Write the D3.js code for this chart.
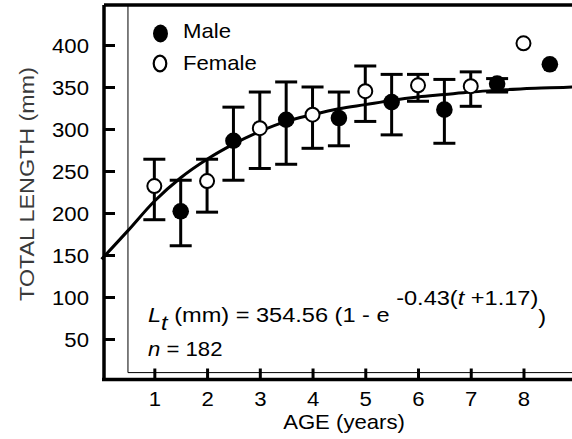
<!DOCTYPE html>
<meta charset="utf-8">
<style>
  body { margin: 0; background: #fff; }
  text { font-family: "Liberation Sans", Arial, sans-serif; fill: #000; }
  .axis path, .axis line { stroke: #000; }
</style>
<svg class="chart"></svg>
<script src="https://cdn.jsdelivr.net/npm/d3@7"></script>
<script>

  // mean total length by age
  var femaleAges = [1, 2, 3, 4, 5, 6, 7, 8];
  var femaleMean = [232, 238, 301, 317, 345, 352, 351, 402];
  var femaleLow  = [192, 201, 253, 277, 309, 333, 327, null];
  var femaleHigh = [264, 264, 344, 350, 375, 365, 368, null];

  var maleAges = [1.5, 2.5, 3.5, 4.5, 5.5, 6.5, 7.5, 8.5];
  var maleMean = [202, 286, 311, 313, 332, 323, 354, 377];
  var maleLow  = [161, 239, 258, 280, 293, 283, 344, null];
  var maleHigh = [239, 326, 356, 344, 365, 359, 360, null];

  // von Bertalanffy fit as drawn
  var fitAges    = [0, 0.5, 1, 1.5, 2, 2.5, 3, 3.5, 4, 4.5, 5, 5.5, 6, 6.5, 7, 7.5, 8, 8.5, 9];
  var fitLengths = [145, 179, 214, 242, 264, 282, 297, 309, 317, 324, 329, 334, 338, 341, 344, 346, 348, 349, 350];

  var xTicks = [1, 2, 3, 4, 5, 6, 7, 8];
  var yTicks = [50, 100, 150, 200, 250, 300, 350, 400];

  var width  = 572,
      height = 439,
      stretch = 1.08,
      fontSize = 20.5;

  var x = d3.scaleLinear().domain([0, 8.92]).range([101.6, 572]);
  var y = d3.scaleLinear().domain([0, 447.6]).range([381, 5]);

  var svg = d3.select(".chart")
      .attr("width", width)
      .attr("height", height);

  function toPoints(ages, mean, low, high, sex) {
    return ages.map(function(a, i) {
      return { age: a, mean: mean[i], low: low[i], high: high[i], sex: sex };
    });
  }

  var points = toPoints(femaleAges, femaleMean, femaleLow, femaleHigh, "F")
      .concat(toPoints(maleAges, maleMean, maleLow, maleHigh, "M"));

  // thin inner frame
  svg.append("line")
      .attr("x1", x(0.5)).attr("x2", x(0.5))
      .attr("y1", 5).attr("y2", y(10))
      .attr("stroke", "#000").attr("stroke-width", 1);
  svg.append("line")
      .attr("x1", x(0.5)).attr("x2", width)
      .attr("y1", y(10)).attr("y2", y(10))
      .attr("stroke", "#000").attr("stroke-width", 1);

  // top border
  svg.append("line")
      .attr("x1", 104).attr("x2", width)
      .attr("y1", 5).attr("y2", 5)
      .attr("stroke", "#000").attr("stroke-width", 3.5);

  var yAxis = svg.append("g")
      .attr("class", "axis")
      .attr("transform", "translate(104,0)")
      .call(d3.axisLeft(y).tickValues(yTicks).tickSizeInner(-11).tickSizeOuter(0).tickPadding(0));

  yAxis.select(".domain").attr("stroke-width", 3.5).attr("d", "M0,381V5");
  yAxis.selectAll(".tick line").attr("stroke-width", 3);
  yAxis.selectAll(".tick text")
      .attr("x", 0)
      .attr("dy", null)
      .attr("transform", "translate(-15,7.2) scale(" + stretch + ",1)")
      .style("font-size", fontSize + "px")
      .attr("font-family", null);

  var xAxis = svg.append("g")
      .attr("class", "axis")
      .attr("transform", "translate(0,379.5)")
      .call(d3.axisBottom(x).tickValues(xTicks).tickSizeInner(-11).tickSizeOuter(0).tickPadding(0));

  xAxis.select(".domain").attr("stroke-width", 3.5).attr("d", "M102,0H572");
  xAxis.selectAll(".tick line").attr("stroke-width", 3);
  xAxis.selectAll(".tick text")
      .attr("y", 0)
      .attr("dy", null)
      .attr("transform", "translate(0,26) scale(" + stretch + ",1)")
      .style("font-size", fontSize + "px")
      .attr("font-family", null);

  // axis titles
  svg.append("text")
      .attr("transform", "translate(344,429) scale(" + stretch + ",1)")
      .attr("text-anchor", "middle")
      .style("font-size", fontSize + "px")
      .text("AGE (years)");

  svg.append("text")
      .attr("transform", "translate(34,184) rotate(-90) scale(1.11,1)")
      .attr("text-anchor", "middle")
      .style("font-size", "21px")
      .style("fill", "#3a3a3a")
      .text("TOTAL LENGTH (mm)");

  // fitted growth curve
  var line = d3.line()
      .x(function(d) { return x(d[0]); })
      .y(function(d) { return y(d[1]); })
      .curve(d3.curveMonotoneX);

  svg.append("path")
      .datum(fitAges.map(function(a, i) { return [a, fitLengths[i]]; }))
      .attr("d", line)
      .attr("fill", "none")
      .attr("stroke", "#000")
      .attr("stroke-width", 3);

  // error bars
  var bars = svg.append("g")
      .attr("class", "bars")
    .selectAll("g")
      .data(points.filter(function(d) { return d.low != null; }))
    .enter().append("g")
      .attr("stroke", "#000")
      .attr("stroke-width", 3);

  bars.append("line")
      .attr("x1", function(d) { return x(d.age); })
      .attr("x2", function(d) { return x(d.age); })
      .attr("y1", function(d) { return y(d.low); })
      .attr("y2", function(d) { return y(d.high); });

  bars.append("line")
      .attr("x1", function(d) { return x(d.age) - 11; })
      .attr("x2", function(d) { return x(d.age) + 11; })
      .attr("y1", function(d) { return y(d.low); })
      .attr("y2", function(d) { return y(d.low); });

  bars.append("line")
      .attr("x1", function(d) { return x(d.age) - 11; })
      .attr("x2", function(d) { return x(d.age) + 11; })
      .attr("y1", function(d) { return y(d.high); })
      .attr("y2", function(d) { return y(d.high); });

  // means
  svg.append("g")
      .attr("class", "points")
    .selectAll("circle")
      .data(points)
    .enter().append("circle")
      .attr("cx", function(d) { return x(d.age); })
      .attr("cy", function(d) { return y(d.mean); })
      .attr("r", function(d) { return d.sex === "M" ? 8.3 : 7; })
      .attr("fill", function(d) { return d.sex === "M" ? "#000" : "#fff"; })
      .attr("stroke", "#000")
      .attr("stroke-width", function(d) { return d.sex === "M" ? 0 : 2; });

  // legend
  svg.append("ellipse")
      .attr("cx", 160.5).attr("cy", 33.5)
      .attr("rx", 7.5).attr("ry", 9)
      .attr("fill", "#000");
  svg.append("ellipse")
      .attr("cx", 160).attr("cy", 63.5)
      .attr("rx", 6.3).attr("ry", 7.8)
      .attr("fill", "none")
      .attr("stroke", "#000")
      .attr("stroke-width", 2.2);

  svg.append("text")
      .attr("transform", "translate(183,38) scale(" + stretch + ",1)")
      .style("font-size", fontSize + "px")
      .text("Male");
  svg.append("text")
      .attr("transform", "translate(183,70) scale(" + stretch + ",1)")
      .style("font-size", fontSize + "px")
      .text("Female");

  // equation
  var eq = svg.append("text")
      .attr("transform", "translate(148,322) scale(1.15,1)")
      .style("font-size", fontSize + "px");
  eq.append("tspan").style("font-style", "italic").text("L");
  eq.append("tspan").style("font-style", "italic").attr("dy", 8).text("t");
  eq.append("tspan").attr("dy", -8).text(" (mm) = 354.56 (1 - e ");
  eq.append("tspan").attr("dy", -17).text("-0.43(");
  eq.append("tspan").style("font-style", "italic").text("t");
  eq.append("tspan").text(" +1.17)");
  eq.append("tspan").attr("dy", 19).text(")");

  var nt = svg.append("text")
      .attr("transform", "translate(148,356) scale(" + stretch + ",1)")
      .style("font-size", fontSize + "px");
  nt.append("tspan").style("font-style", "italic").text("n");
  nt.append("tspan").text(" = 182");

</script>
